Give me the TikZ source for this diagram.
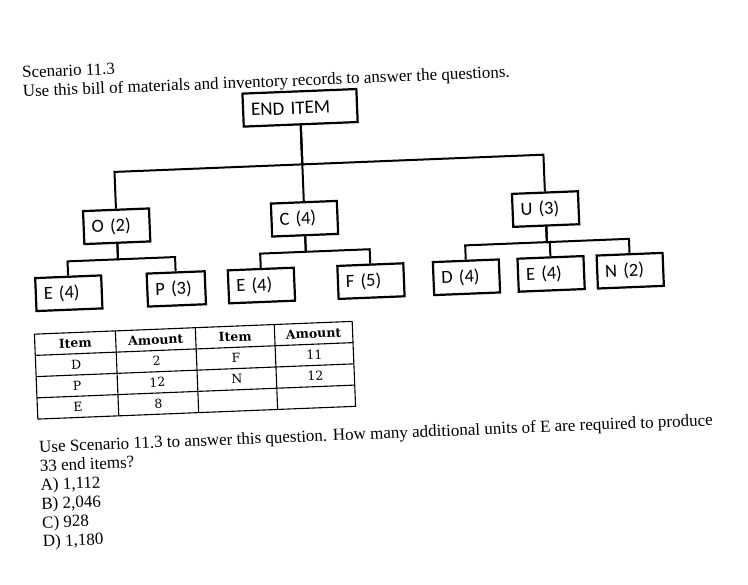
\documentclass[tikz,border=0pt]{standalone}
\usepackage{fontspec}
\setmainfont{Liberation Serif}
\newfontfamily\boxfont{Carlito}
\newfontfamily\tablefont{DejaVu Serif}
\usepackage{tikz}

\tikzset{
  bom/.style={draw, rectangle, line width=2.2pt, text width=50pt, inner xsep=8pt, inner ysep=0pt,
    minimum height=33pt, align=left, font=\boxfont\fontsize{18.5}{20}\selectfont},
  link/.style={line width=2pt},
  grid/.style={line width=1.1pt},
  cell/.style={inner sep=0pt, font=\tablefont\fontsize{12.5}{14}\selectfont},
  head/.style={inner sep=0pt, font=\tablefont\bfseries\fontsize{12.5}{14}\selectfont},
  txt/.style={anchor=base west, inner sep=0pt, font=\fontsize{17}{19}\selectfont}
}

\begin{document}
\begin{tikzpicture}[x=1pt, y=-1pt]
    \useasboundingbox (0,0) rectangle (748,585);
    \begin{scope}[rotate around={2.3:(374,292)}, transform shape]
        % Heading
        \node[txt] (scen) at (31,64) {Scenario 11.3};
        \node[txt] (intro) at (31,83) {Use this bill of materials and inventory records to answer the questions.};

        % Bill of materials
        \node[bom, text width=98pt, font=\boxfont\fontsize{19}{21}\selectfont] (enditem) at (307.5,105) {END ITEM};

        \node[bom] (o) at (119.5,216) {O (2)};
        \node[bom] (c) at (307.5,216) {C (4)};
        \node[bom] (u) at (548.8,216) {U (3)};

        \node[bom] (eo) at (69,281) {E (4)};
        \node[bom, text width=42pt] (p) at (176.6,281) {P (3)};
        \node[bom] (ec) at (261.8,281) {E (4)};
        \node[bom] (f) at (371.4,281) {F (5)};
        \node[bom] (d) at (467,281) {D (4)};
        \node[bom] (eu) at (551.7,281) {E (4)};
        \node[bom] (n) at (630.9,281) {N (2)};

        % Connections
        \draw[link] (enditem.south) -- ++(0,39) -| (o.north);
        \draw[link] (enditem.south) -- ++(0,39) -| (u.north);
        \draw[link] (enditem.south) -- (c.north);

        \draw[link] (o.south) -- ++(0,15.5) -| (eo.north);
        \draw[link] (o.south) -- ++(0,15.5) -| (p.north);
        \draw[link] (c.south) -- ++(0,15.5) -| (ec.north);
        \draw[link] (c.south) -- ++(0,15.5) -| (f.north);
        \draw[link] (u.south) -- ++(0,15.5) -| (d.north);
        \draw[link] (u.south) -- ++(0,15.5) -| (eu.north);
        \draw[link] (u.south) -- ++(0,15.5) -| (n.north);

        % Inventory records
        \draw[grid] (33,320.5) rectangle (351,405.5);
        \draw[grid] (33,341.75) -- (351,341.75);
        \draw[grid] (33,363) -- (351,363);
        \draw[grid] (33,384.25) -- (351,384.25);
        \draw[grid] (114,320.5) -- (114,405.5);
        \draw[grid] (194,320.5) -- (194,405.5);
        \draw[grid] (273,320.5) -- (273,405.5);

        \node[head] (hitem1) at (73.5,331.1) {Item};
        \node[head] (hamt1) at (154,331.1) {Amount};
        \node[head] (hitem2) at (233.5,331.1) {Item};
        \node[head] (hamt2) at (312,331.1) {Amount};
        \node[cell] (rd) at (73.5,352.4) {D};
        \node[cell] (rdamt) at (154,352.4) {2};
        \node[cell] (rp) at (73.5,373.6) {P};
        \node[cell] (rpamt) at (154,373.6) {12};
        \node[cell] (re) at (73.5,394.9) {E};
        \node[cell] (reamt) at (154,394.9) {8};
        \node[cell] (rf) at (233.5,352.4) {F};
        \node[cell] (rfamt) at (312,352.4) {11};
        \node[cell] (rn) at (233.5,373.6) {N};
        \node[cell] (rnamt) at (312,373.6) {12};

        % Question
        \node[txt] (q1) at (33,439) {Use Scenario 11.3 to answer this question. How many additional units of E are required to produce};
        \node[txt] (q2) at (33,457.9) {33 end items?};
        \node[txt] (ansa) at (33,476.8) {A) 1,112};
        \node[txt] (ansb) at (33,495.7) {B) 2,046};
        \node[txt] (ansc) at (33,514.6) {C) 928};
        \node[txt] (ansd) at (33,533.5) {D) 1,180};
    \end{scope}
\end{tikzpicture}
\end{document}
